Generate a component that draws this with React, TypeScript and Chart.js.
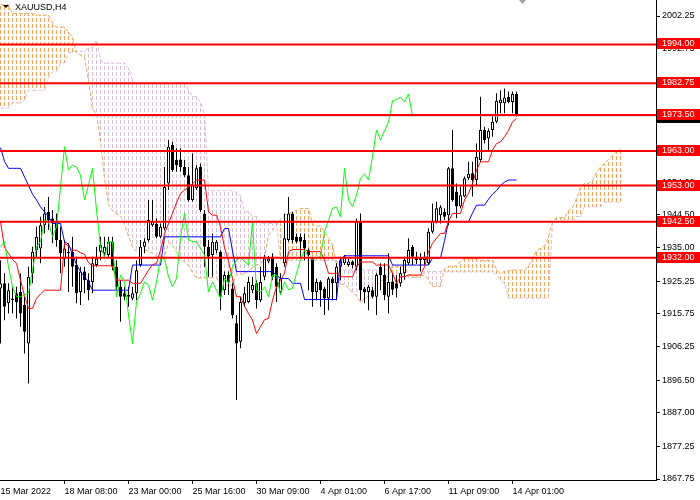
import React, { useEffect, useRef } from "react";
import { Chart, registerables } from "chart.js";

Chart.register(...registerables);

// ---------- DATA ----------
const symbolLabel = "XAUUSD,H4";

const opens = [
  1923.1, 1924.6, 1918.8, 1919.7, 1921.7, 1922.1, 1918.3, 1907.1, 1927.5, 1934.2,
  1934.7, 1941.5, 1945.4, 1943.4, 1942.5, 1937.2, 1931.8, 1933.8, 1933.8, 1929.9,
  1922.1, 1928.0, 1925.5, 1925.0, 1929.9, 1933.8, 1933.3, 1932.8, 1936.7, 1929.4,
  1923.6, 1921.7, 1920.7, 1920.2, 1921.7, 1929.9, 1935.2, 1937.2, 1941.5, 1942.0,
  1938.1, 1940.6, 1953.6, 1964.8, 1960.4, 1960.6, 1958.4, 1956.0, 1948.8, 1952.2,
  1958.4, 1944.9, 1935.2, 1932.8, 1934.2, 1933.8, 1922.6, 1927.0, 1923.1, 1913.0,
  1907.6, 1918.8, 1919.2, 1922.6, 1924.6, 1919.7, 1926.5, 1930.9, 1932.3, 1929.4,
  1922.1, 1930.4, 1937.2, 1944.9, 1938.1, 1938.1, 1937.2, 1934.2, 1931.8, 1922.1,
  1925.0, 1923.1, 1920.2, 1926.0, 1924.6, 1929.4, 1930.4, 1929.9, 1930.9, 1929.4,
  1942.5, 1923.1, 1922.1, 1922.6, 1920.7, 1929.4, 1927.0, 1920.7, 1925.1, 1924.6,
  1924.6, 1927.5, 1930.4, 1935.2, 1932.3, 1931.4, 1931.4, 1930.4, 1939.6, 1942.5,
  1944.4, 1945.4, 1944.4, 1958.0, 1951.2, 1946.9, 1949.8, 1955.1, 1956.6, 1954.6,
  1960.4, 1969.1, 1966.7, 1969.1, 1971.5, 1976.9, 1976.9, 1978.8, 1977.3, 1979.6,
];

const highs = [
  1931.3, 1927.5, 1924.6, 1923.6, 1923.6, 1927.5, 1920.7, 1929.4, 1935.2, 1941.0,
  1943.9, 1946.8, 1949.7, 1945.9, 1944.9, 1941.0, 1937.2, 1936.2, 1938.1, 1932.3,
  1929.4, 1929.4, 1927.5, 1932.3, 1935.2, 1938.1, 1938.1, 1938.1, 1938.1, 1931.3,
  1925.5, 1923.6, 1923.6, 1923.6, 1931.3, 1937.2, 1937.7, 1948.8, 1948.8, 1943.4,
  1942.0, 1958.4, 1966.2, 1965.7, 1963.8, 1963.8, 1960.4, 1958.4, 1962.3, 1958.9,
  1959.4, 1945.9, 1937.2, 1939.1, 1937.2, 1934.2, 1928.0, 1928.0, 1924.6, 1915.4,
  1920.7, 1923.6, 1926.5, 1926.5, 1925.5, 1929.4, 1932.8, 1932.5, 1933.3, 1930.4,
  1927.5, 1944.9, 1949.7, 1945.4, 1939.1, 1939.1, 1939.1, 1934.7, 1932.3, 1926.0,
  1925.5, 1923.6, 1926.5, 1926.5, 1930.4, 1932.3, 1932.8, 1931.8, 1931.3, 1943.4,
  1944.9, 1923.6, 1924.1, 1923.6, 1927.5, 1930.4, 1930.4, 1933.3, 1927.5, 1927.0,
  1929.4, 1932.3, 1937.7, 1935.7, 1933.8, 1933.3, 1933.8, 1940.6, 1947.8, 1948.3,
  1947.3, 1946.4, 1958.4, 1969.1, 1953.6, 1952.7, 1955.6, 1959.9, 1959.9, 1965.2,
  1978.8, 1970.1, 1969.6, 1973.5, 1979.8, 1980.7, 1981.2, 1980.3, 1980.3, 1980.3,
];

const lows = [
  1907.1, 1913.9, 1915.8, 1915.8, 1914.4, 1912.0, 1904.2, 1895.5, 1924.6, 1932.3,
  1930.4, 1939.1, 1940.1, 1936.2, 1935.2, 1927.5, 1929.4, 1922.1, 1923.6, 1918.8,
  1918.3, 1921.7, 1919.7, 1921.7, 1929.4, 1931.3, 1932.3, 1932.3, 1928.4, 1922.6,
  1913.4, 1919.7, 1917.8, 1919.7, 1919.7, 1929.4, 1933.3, 1936.7, 1941.0, 1937.7,
  1937.7, 1940.1, 1951.7, 1957.0, 1957.0, 1957.0, 1955.5, 1948.3, 1948.3, 1951.7,
  1945.4, 1929.4, 1926.5, 1926.5, 1933.3, 1916.8, 1921.2, 1921.2, 1914.4, 1890.7,
  1905.7, 1917.8, 1918.8, 1921.7, 1917.3, 1919.2, 1925.5, 1930.4, 1925.5, 1919.2,
  1921.2, 1929.4, 1936.7, 1936.2, 1936.2, 1932.3, 1931.3, 1922.6, 1917.8, 1919.7,
  1917.8, 1915.4, 1916.8, 1919.7, 1919.7, 1925.5, 1929.9, 1929.4, 1928.9, 1928.4,
  1919.7, 1918.8, 1916.8, 1920.2, 1915.4, 1922.6, 1919.7, 1915.8, 1921.2, 1920.5,
  1923.6, 1925.6, 1929.9, 1929.9, 1930.2, 1928.0, 1929.9, 1929.9, 1939.1, 1942.0,
  1942.0, 1943.0, 1941.5, 1948.3, 1943.5, 1946.4, 1949.6, 1954.6, 1949.8, 1953.1,
  1959.9, 1965.2, 1962.8, 1967.2, 1971.1, 1974.0, 1974.0, 1976.9, 1974.0, 1973.0,
];

const closes = [
  1924.6, 1917.8, 1922.6, 1920.2, 1919.2, 1915.8, 1910.5, 1926.5, 1933.8, 1938.1,
  1941.5, 1944.9, 1943.0, 1942.0, 1937.2, 1933.3, 1934.7, 1933.3, 1929.4, 1921.7,
  1928.0, 1925.5, 1922.6, 1930.4, 1931.8, 1935.7, 1935.2, 1936.7, 1929.4, 1923.6,
  1920.7, 1920.7, 1921.2, 1921.7, 1928.4, 1935.2, 1936.7, 1943.0, 1942.5, 1938.1,
  1941.0, 1952.6, 1964.3, 1957.5, 1958.9, 1958.4, 1956.0, 1948.8, 1953.1, 1958.0,
  1945.9, 1935.2, 1932.3, 1936.7, 1936.7, 1920.7, 1927.0, 1925.0, 1915.4, 1907.1,
  1919.2, 1921.7, 1925.0, 1924.1, 1919.7, 1925.0, 1931.8, 1931.8, 1926.5, 1923.6,
  1926.0, 1937.7, 1944.9, 1937.2, 1936.7, 1936.7, 1934.7, 1932.8, 1922.1, 1925.0,
  1922.6, 1920.2, 1926.0, 1924.6, 1929.4, 1931.3, 1932.1, 1930.9, 1929.9, 1942.5,
  1922.6, 1922.1, 1923.6, 1920.7, 1927.0, 1927.0, 1921.2, 1925.0, 1922.7, 1923.1,
  1927.5, 1931.4, 1934.3, 1932.3, 1931.4, 1932.1, 1932.3, 1939.6, 1942.8, 1946.4,
  1946.7, 1943.9, 1958.0, 1948.8, 1946.9, 1950.2, 1955.1, 1956.4, 1954.6, 1961.4,
  1969.1, 1966.2, 1968.9, 1971.5, 1977.6, 1978.0, 1978.6, 1977.3, 1979.6, 1973.2,
];

// Tenkan-sen (red)
const tenkan = [
  1942.5, 1935, 1933.3, 1931.5, 1930.4, 1925.5, 1921, 1917.3, 1917.3, 1920.2,
  1921.5, 1922.6, 1922.6, 1922.6, 1922.6, 1922.6, 1936.2, 1935.5, 1934.2, 1934.2,
  1933.5, 1933, 1930.6, 1929.7, 1929.7, 1929.7, 1929.7, 1929.7, 1929.7, 1925.5,
  1925.5, 1925.5, 1925.5, 1924.6, 1924.6, 1924.6, 1926.5, 1928.4, 1930, 1930.4,
  1934.2, 1939, 1942, 1944.9, 1948, 1950.7, 1951.7, 1952.5, 1953.5, 1954.6,
  1954.6, 1954.6, 1945.4, 1944.4, 1944.4, 1941, 1935, 1931, 1926, 1920.7,
  1920.7, 1918, 1915.8, 1913.9, 1910, 1912, 1914, 1914.4, 1919.7, 1923.6,
  1925.5, 1927.5, 1933.8, 1934.4, 1934.4, 1934.4, 1934.4, 1933.8, 1933.8, 1933.8,
  1933.8, 1931.3, 1927.5, 1927.5, 1927.5, 1926.5, 1926.5, 1926.5, 1926.5, 1929.4,
  1930.8, 1930.8, 1930.8, 1930.8, 1929.9, 1929.9, 1929.9, 1929.9, 1927.5, 1924.6,
  1926.5, 1926.5, 1927, 1927, 1927, 1927, 1929.4, 1933.8, 1936.2, 1937.7,
  1939.1, 1939.1, 1942.5, 1944.9, 1944.9, 1944.9, 1948.8, 1950.7, 1953.6, 1957.5,
  1959.9, 1959.9, 1959.9, 1963.3, 1965.2, 1965.7, 1967.2, 1969, 1971.5, 1972.5,
];

// Kijun-sen (blue)
const kijun = [
  1964, 1960, 1958, 1958, 1958, 1958, 1955.5, 1953, 1950.5, 1948.8,
  1946.8, 1945.4, 1944, 1942, 1942, 1942, 1936.7, 1936, 1933, 1930,
  1928, 1926.5, 1925, 1922.6, 1922.6, 1922.6, 1922.6, 1922.6, 1922.6, 1922.6,
  1922.6, 1922.6, 1922.6, 1929.9, 1929.9, 1929.9, 1929.9, 1929.9, 1929.9, 1929.9,
  1929.9, 1938.1, 1938.1, 1938.1, 1938.1, 1938.1, 1938.1, 1938.1, 1938.1, 1938.1,
  1938.1, 1938.1, 1938.1, 1938.1, 1938.1, 1938.1, 1940.5, 1940.5, 1934, 1928,
  1928, 1928, 1928, 1928, 1928, 1928, 1928, 1928, 1928, 1927,
  1926, 1926, 1926, 1924.6, 1924.6, 1924.6, 1919.9, 1919.9, 1919.9, 1919.9,
  1919.9, 1919.9, 1919.9, 1919.9, 1919.9, 1931.3, 1932.6, 1932.6, 1932.6, 1932.6,
  1932.6, 1932.6, 1932.6, 1932.6, 1932.6, 1932.6, 1932.6, 1932.6, 1929.9, 1929.9,
  1929.9, 1929.9, 1929.9, 1929.9, 1929.9, 1929.9, 1929.9, 1929.9, 1931.9, 1931.9,
  1931.9, 1937, 1942.5, 1942.5, 1942.5, 1942.5, 1942.5, 1942.5, 1945, 1947.3,
  1947.3, 1947.3, 1949, 1950.5, 1951.5, 1953, 1954, 1954.6, 1954.6, 1954.6,
];

// Senkou span A (sandy brown), already shifted 26 bars forward
const spanA = [
  2005.5, 2005.5, 2005.5, 2003, 2003, 2003, 2003, 2003, 2003, 2002.5,
  2002.5, 2002.5, 2002.5, 2000.2, 1999, 1999, 1999, 1997.6, 1996, 1991.5,
  1990.9, 1990.3, 1983.6, 1975, 1974, 1966, 1955, 1947.5, 1945.65, 1944.75,
  1944.2, 1941.75, 1938.25, 1935.15, 1933.9, 1934.5, 1934.15, 1934, 1933.3, 1932.3,
  1932.3, 1932.3, 1936.45, 1935.75, 1933.6, 1932.1, 1930.75, 1929.75, 1927.8, 1926.15,
  1926.15, 1926.15, 1926.15, 1926.15, 1926.15, 1924.05, 1924.05, 1924.05, 1924.05, 1927.25,
  1927.25, 1927.25, 1928.2, 1929.15, 1929.95, 1930.15, 1932.05, 1938.55, 1940.05, 1941.5,
  1943.05, 1944.4, 1944.9, 1945.3, 1945.8, 1946.35, 1946.35, 1946.35, 1941.75, 1941.25,
  1941.25, 1939.55, 1937.75, 1935.75, 1930, 1924.35, 1924.35, 1923, 1921.9, 1920.95,
  1919, 1920, 1921, 1921.2, 1923.85, 1925.3, 1925.75, 1926.75, 1929.9, 1929.5,
  1929.5, 1929.5, 1927.15, 1926.85, 1926.85, 1926.85, 1926.85, 1925.6, 1923.7, 1923.7,
  1923.7, 1928.9, 1929.55, 1929.55, 1929.55, 1931, 1931.7, 1931.7, 1931.7, 1931.7,
  1931.25, 1931.25, 1931.25, 1931.25, 1928.7, 1927.25, 1928.2, 1928.2, 1928.45, 1928.45,
  1928.45, 1928.45, 1929.65, 1931.85, 1934.05, 1934.8, 1935.5, 1938.05, 1942.5, 1943.7,
  1943.7, 1943.7, 1945.65, 1946.6, 1949.3, 1952.4, 1953.6, 1953.6, 1954.45, 1956.9,
  1958.35, 1959.35, 1960.6, 1961.8, 1963.05, 1963.55,
];

// Senkou span B (thistle), already shifted 26 bars forward
const spanB = [
  1975.5, 1975.5, 1975.5, 1977, 1977, 1977, 1977.8, 1980.7, 1980.7, 1980.7,
  1980.7, 1980.7, 1984.2, 1986, 1986, 1988.6, 1988.6, 1991.5, 1991.8, 1992,
  1992, 1992, 1993, 1993, 1995.2, 1989.4, 1988.6, 1988.6, 1988.6, 1988.6,
  1988.6, 1988.6, 1987.1, 1983.6, 1982.8, 1982.8, 1982.8, 1982.8, 1982.8, 1982.8,
  1982.8, 1982.8, 1982.8, 1982.8, 1982.8, 1982.8, 1982.8, 1980.7, 1978.9, 1978.9,
  1977, 1974, 1951.5, 1951.5, 1951.5, 1951.5, 1951.5, 1951.5, 1951.5, 1951,
  1950, 1945.4, 1945.4, 1944, 1944, 1942, 1942, 1942, 1942, 1942,
  1931.3, 1931.3, 1931.3, 1931.3, 1931.3, 1931.3, 1931.3, 1931.3, 1931.3, 1931.3,
  1931.3, 1931.3, 1931.3, 1931.3, 1931.3, 1928.5, 1928.5, 1928.5, 1928.5, 1928.5,
  1928.5, 1928.5, 1928.5, 1928.5, 1928.5, 1928.5, 1928.5, 1928.5, 1927.5, 1927.5,
  1927.5, 1927.5, 1926.3, 1926.3, 1926.3, 1926.3, 1928, 1928, 1928, 1928,
  1928, 1927.9, 1927.9, 1927.9, 1927.9, 1927.9, 1927.9, 1927.9, 1927.9, 1927.9,
  1927.9, 1927.9, 1927.9, 1927.9, 1927, 1925.5, 1924.5, 1920.3, 1920.3, 1920.3,
  1920.3, 1920.3, 1920.3, 1920.3, 1920.3, 1920.3, 1920.3, 1920.3, 1942.4, 1942.4,
  1942.4, 1942.4, 1942.4, 1942.4, 1944, 1944, 1946.8, 1946.8, 1946.8, 1946.8,
  1946.8, 1948.2, 1948.2, 1948.2, 1948.2, 1948.2,
];

const CHIKOU_SHIFT = 26; // Chikou span = close plotted 26 bars back

// Horizontal support / resistance levels (red)
const levels = [1994.0, 1982.75, 1973.5, 1963.0, 1953.0, 1942.5, 1932.0];

// Price axis ticks
const yTicks = [
  1867.75, 1877.25, 1887.0, 1896.5, 1906.25, 1915.75, 1925.25, 1935.0,
  1944.5, 1954.0, 1963.5, 1973.25, 1982.75, 1992.75, 2002.25,
];

// Time axis ticks (bar index) and labels
const xTickBars = [0, 16, 32, 48, 64, 80, 96, 112, 128];
const xTickLabels = [
  "15 Mar 2022", "18 Mar 08:00", "23 Mar 00:00", "25 Mar 16:00", "30 Mar 09:00",
  "4 Apr 01:00", "6 Apr 17:00", "11 Apr 09:00", "14 Apr 01:00",
];

const Y_MIN = 1867.46;
const Y_MAX = 2006.9;
const X_MIN = -0.125;
const X_MAX = 163.875;

const FONT = "'Liberation Sans', Arial, sans-serif";

function makeHatch(ctx: CanvasRenderingContext2D, color: string) {
  const c = document.createElement("canvas");
  c.width = 1;
  c.height = 6;
  const g = c.getContext("2d")!;
  g.fillStyle = color;
  g.fillRect(0, 0, 1, 4);
  return ctx.createPattern(c, "repeat");
}

export default function App() {
  const ref = useRef<HTMLCanvasElement | null>(null);

  useEffect(() => {
    document.body.style.margin = "0";
    const canvas = ref.current!;
    const ctx = canvas.getContext("2d")!;
    const hatchOrange = makeHatch(ctx, "#F4A460");
    const hatchThistle = makeHatch(ctx, "#D8BFD8");

    const cloudData = spanA.map((a, j) => ({
      x: j,
      y: [Math.min(a, spanB[j]), Math.max(a, spanB[j])],
    }));
    const cloudColors = spanA.map((a, j) => (a >= spanB[j] ? hatchOrange : hatchThistle));

    const wickData = highs.map((h, i) => ({ x: i, y: [lows[i], h] }));
    const bodyData = opens.map((o, i) => ({
      x: i,
      y: [Math.min(o, closes[i]), Math.max(o, closes[i])],
    }));
    const bodyColors = opens.map((o, i) => (closes[i] >= o ? "#FFFFFF" : "#000000"));

    const lineDs = (label: string, data: number[], color: string, order: number, extra: any = {}) => ({
      type: "line" as const,
      label,
      data: data.map((v, i) => ({ x: i, y: v })),
      borderColor: color,
      borderWidth: 1,
      pointRadius: 0,
      tension: 0,
      fill: false,
      order,
      ...extra,
    });

    const lastClose = closes[closes.length - 1];

    const overlay = {
      id: "overlay",
      afterDraw(chart: any) {
        const c = chart.ctx as CanvasRenderingContext2D;
        const ys = chart.scales.y;
        const area = chart.chartArea;
        c.save();
        // current price (black) label, mostly hidden by the red one
        const yc = ys.getPixelForValue(lastClose);
        c.fillStyle = "#000000";
        c.fillRect(area.right + 1, Math.round(yc) - 6, 700 - area.right - 1, 13);
        // red level labels
        c.font = `9px ${FONT}`;
        c.textBaseline = "middle";
        c.textAlign = "left";
        levels.forEach((v) => {
          const y = ys.getPixelForValue(v);
          c.fillStyle = "#FF0000";
          c.fillRect(area.right + 1, Math.round(y) - 6, 700 - area.right - 1, 11);
          c.fillStyle = "#FFFFFF";
          c.fillText(v.toFixed(2), area.right + 6, Math.round(y) - 0.5);
        });
        // symbol label with triangle
        c.fillStyle = "#000000";
        c.beginPath();
        c.moveTo(3, 5);
        c.lineTo(9, 5);
        c.lineTo(6, 8);
        c.closePath();
        c.fill();
        c.font = `9px ${FONT}`;
        c.textBaseline = "middle";
        c.fillText(symbolLabel, 15, 7.5);
        // chart shift marker
        c.fillStyle = "#A0A0A0";
        c.beginPath();
        c.moveTo(519, 0);
        c.lineTo(526, 0);
        c.lineTo(522.5, 4);
        c.closePath();
        c.fill();
        c.restore();
      },
    };

    const chart = new Chart(canvas, {
      type: "bar",
      data: {
        datasets: [
          {
            type: "bar",
            label: "cloud",
            data: cloudData as any,
            backgroundColor: cloudColors as any,
            borderWidth: 0,
            barThickness: 1,
            grouped: false,
            inflateAmount: 0,
            order: 20,
          } as any,
          lineDs("spanA", spanA, "#F4A460", 19, { borderDash: [4, 2] }),
          lineDs("spanB", spanB, "#D8BFD8", 19, { borderDash: [4, 2] }),
          {
            type: "bar",
            label: "wicks",
            data: wickData as any,
            backgroundColor: "#000000",
            borderWidth: 0,
            barThickness: 1,
            grouped: false,
            inflateAmount: 0,
            order: 15,
          } as any,
          {
            type: "bar",
            label: "bodies",
            data: bodyData as any,
            backgroundColor: bodyColors,
            borderColor: "#000000",
            borderWidth: 1,
            borderSkipped: false,
            barThickness: 3,
            minBarLength: 1,
            grouped: false,
            inflateAmount: 0,
            order: 14,
          } as any,
          lineDs("kijun", kijun, "#0000FF", 12),
          lineDs("tenkan", tenkan, "#FF0000", 11),
          {
            type: "line",
            label: "chikou",
            data: closes.slice(CHIKOU_SHIFT).map((v, j) => ({ x: j, y: v })),
            borderColor: "#00FF00",
            borderWidth: 1,
            pointRadius: 0,
            tension: 0,
            fill: false,
            order: 10,
          } as any,
          {
            type: "line",
            label: "bid",
            data: [
              { x: X_MIN - 2, y: lastClose },
              { x: X_MAX + 2, y: lastClose },
            ],
            borderColor: "#C0C0C0",
            borderWidth: 1,
            pointRadius: 0,
            order: 3,
          } as any,
          ...levels.map(
            (v) =>
              ({
                type: "line",
                label: "level " + v,
                data: [
                  { x: X_MIN - 2, y: v },
                  { x: X_MAX + 2, y: v },
                ],
                borderColor: "#FF0000",
                borderWidth: 2,
                pointRadius: 0,
                order: 2,
              }) as any
          ),
        ],
      },
      options: {
        responsive: false,
        animation: false,
        events: [],
        layout: { padding: 0, autoPadding: false },
        plugins: { legend: { display: false }, tooltip: { enabled: false } },
        scales: {
          x: {
            type: "linear",
            position: "bottom",
            min: X_MIN,
            max: X_MAX,
            bounds: "data",
            offset: false,
            afterBuildTicks: (s: any) => {
              s.ticks = xTickBars.map((v) => ({ value: v }));
            },
            afterFit: (s: any) => {
              s.height = 20;
              s.paddingLeft = 0;
              s.paddingRight = 0;
            },
            ticks: {
              autoSkip: false,
              maxRotation: 0,
              minRotation: 0,
              align: "start",
              padding: 2,
              color: "#000000",
              font: { family: FONT, size: 9 },
              callback: (_v: any, idx: number) => xTickLabels[idx],
            },
            grid: {
              drawOnChartArea: false,
              drawTicks: true,
              tickLength: 4,
              offset: false,
              color: (c: any) => (c.index === 0 ? "rgba(0,0,0,0)" : "#000000"),
            },
            border: { display: true, color: "#000000", width: 1 },
          },
          y: {
            type: "linear",
            position: "right",
            min: Y_MIN,
            max: Y_MAX,
            bounds: "data",
            afterBuildTicks: (s: any) => {
              s.ticks = yTicks.map((v) => ({ value: v }));
            },
            afterFit: (s: any) => {
              s.width = 44;
              s.paddingTop = 0;
              s.paddingBottom = 0;
            },
            ticks: {
              autoSkip: false,
              padding: 2,
              color: "#000000",
              font: { family: FONT, size: 9 },
              callback: (v: any) => Number(v).toFixed(2),
            },
            grid: {
              drawOnChartArea: false,
              drawTicks: true,
              tickLength: 4,
              color: "#000000",
            },
            border: { display: true, color: "#000000", width: 1 },
          },
        },
      } as any,
      plugins: [overlay],
    });

    return () => chart.destroy();
  }, []);

  return (
    <div style={{ width: 700, height: 500, background: "#FFFFFF" }}>
      <canvas ref={ref} width={700} height={500} style={{ display: "block", width: 700, height: 500 }} />
    </div>
  );
}
